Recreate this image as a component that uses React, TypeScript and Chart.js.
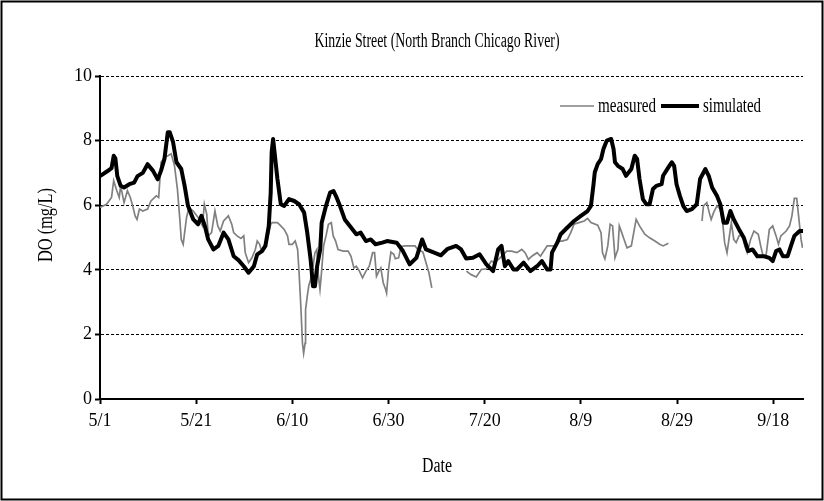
import React, { useEffect, useRef } from 'react';
import { Chart, registerables } from 'chart.js';

Chart.register(...registerables);

const FONT = '"Liberation Serif", "Times New Roman", serif';

const chartTitle = 'Kinzie Street (North Branch Chicago River)';
const xTitle = 'Date';
const yTitle = 'DO (mg/L)';
const seriesNames = ['measured', 'simulated'];

// x values are days after 5/1
const tickDays = [0, 20, 40, 60, 80, 100, 120, 140];
const tickLabels = ['5/1', '5/21', '6/10', '6/30', '7/20', '8/9', '8/29', '9/18'];

const measuredDays = [
  0.0, 1.35, 2.4, 2.85, 3.5, 4.0, 4.3, 5.0, 5.7, 6.3, 6.8, 7.3, 7.7, 8.2, 8.9, 9.9, 10.6, 11.7, 12.2, 12.7,
  13.4, 14.1, 14.8, 15.5, 16.1, 16.6, 16.9, 17.3, 17.6, 18.0, 18.5, 19.4, 20.4, 21.3, 21.7, 22.2, 22.5, 23.2, 23.9, 24.5,
  25.0, 25.7, 26.7, 27.4, 27.8, 28.5, 29.3, 29.9, 30.2, 30.9, 31.6, 32.3, 32.7, 33.2, 33.6, 34.1, 34.8, 35.5, 35.8, 36.9,
  37.6, 38.3, 39.0, 39.3, 40.0, 40.6, 41.1, 41.4, 41.8, 42.1, 42.35, 42.65, 42.75, 43.1, 43.4, 43.8, 44.3, 44.7, 45.1, 45.35,
  45.75, 46.0, 46.5, 47.0, 47.5, 48.1, 48.5, 49.0, 49.5, 50.6, 51.6, 52.2, 52.8, 53.3, 53.95, 54.6, 55.3, 56.0, 56.7, 57.1,
  57.5, 58.0, 58.4, 58.9, 59.4, 59.6, 60.0, 60.5, 61.1, 61.4, 62.1, 62.6, 63.4, 65.5, 66.1, 67.15, 67.8, 68.4, 69.0,
  72.5,
  76.2, 77.2, 78.25, 79.3, 80.35, 81.4, 82.1, 83.2, 84.6, 85.6, 86.7, 87.7, 88.4, 89.1, 89.8, 90.9, 91.6, 92.3, 93.0, 94.7,
  95.4, 96.1, 97.2, 97.9, 98.6, 99.6, 100.7, 101.4, 102.1, 103.5, 104.2, 104.5, 105.0, 105.6, 106.1, 106.6, 107.1, 107.7, 108.0, 108.5,
  109.1, 109.6, 110.5, 111.0, 111.5, 112.2, 113.3, 114.3, 115.4, 116.4, 117.1, 117.8, 118.2,
  121.5,
  125.2, 125.5, 126.2, 126.7, 127.1, 127.6, 128.3, 129.0, 129.5, 129.9, 130.4, 130.9, 131.3, 131.8, 132.3, 132.9, 133.6, 134.1, 134.6, 135.3,
  136.0, 136.9, 137.4, 137.9, 138.5, 139.2, 139.9, 140.6, 141.1, 141.6, 142.7, 143.4, 143.9, 144.4, 144.9, 145.5, 145.8, 146.1,
];
const measuredDO = [
  5.93, 6.03, 6.24, 6.76, 6.45, 6.24, 6.60, 6.08, 6.45, 6.24, 5.98, 5.67, 5.56, 5.88, 5.82, 5.88, 6.13, 6.29, 6.24, 7.33,
  7.48, 7.53, 7.59, 7.22, 6.50, 5.56, 4.94, 4.79, 5.15, 5.62, 5.93, 5.82, 5.62, 5.36, 6.03, 5.72, 5.05, 5.15, 5.82, 5.36,
  5.20, 5.51, 5.67, 5.41, 5.15, 5.05, 4.97, 5.05, 4.53, 4.22, 4.37, 4.63, 4.89, 4.79, 4.58, 4.74, 4.94, 5.41, 5.46, 5.46,
  5.36, 5.25, 5.05, 4.79, 4.79, 4.89, 4.63, 3.91, 2.77, 1.73, 1.42, 1.73, 2.77, 3.18, 3.49, 3.70, 4.11, 4.53, 4.63, 3.91,
  3.39, 3.80, 4.74, 5.05, 5.41, 5.46, 5.05, 4.89, 4.63, 4.58, 4.58, 4.42, 4.06, 4.11, 3.96, 3.75, 3.96, 4.11, 4.53, 4.53,
  3.80, 3.96, 4.06, 3.60, 3.39, 3.28, 4.01, 4.55, 4.48, 4.34, 4.37, 4.72, 4.74, 4.74, 4.63, 4.55, 4.22, 3.91, 3.44,
  null,
  3.96, 3.85, 3.78, 4.01, 4.03, 4.27, 4.22, 4.37, 4.58, 4.58, 4.53, 4.63, 4.53, 4.32, 4.42, 4.53, 4.42, 4.58, 4.74, 4.74,
  4.89, 4.89, 4.94, 5.15, 5.41, 5.46, 5.51, 5.59, 5.46, 5.38, 5.15, 4.53, 4.34, 4.74, 5.41, 5.36, 4.37, 4.63, 5.36, 5.15,
  4.89, 4.68, 4.74, 5.15, 5.56, 5.36, 5.10, 4.99, 4.89, 4.79, 4.74, 4.79, 4.82,
  null,
  5.51, 5.98, 6.08, 5.77, 5.56, 5.77, 5.98, 5.88, 5.46, 4.84, 4.53, 5.05, 5.46, 4.94, 4.84, 5.05, 5.10, 4.74, 4.53, 4.94,
  5.20, 5.10, 4.74, 4.42, 4.42, 5.25, 5.36, 5.05, 4.79, 5.05, 5.20, 5.36, 5.67, 6.21, 6.21, 5.36, 4.94, 4.68,
];

const simulatedDays = [
  0.0, 1.5, 2.4, 2.85, 3.2, 3.6, 4.3, 5.0, 6.1, 7.1, 7.8, 8.9, 9.9, 11.0, 12.0, 12.7, 13.4, 14.1, 14.5, 15.2,
  15.9, 16.9, 17.6, 18.3, 19.4, 20.4, 21.1, 21.8, 22.5, 23.6, 24.6, 25.7, 26.7, 27.8, 28.8, 29.9, 30.9, 32.0, 32.7, 33.7,
  34.4, 35.1, 35.5, 35.7, 36.0, 36.3, 36.9, 37.6, 38.3, 39.3, 40.4, 41.4, 42.45, 43.1, 43.8, 44.3, 44.7, 45.15, 45.8, 46.1,
  47.0, 47.85, 48.55, 49.2, 49.9, 50.9, 52.2, 53.3, 54.2, 55.3, 56.3, 57.3, 58.7, 59.7, 61.7, 63.0, 64.4, 65.8, 67.0, 67.8,
  69.5, 70.9, 72.3, 74.05, 75.1, 76.15, 77.55, 78.95, 80.35, 81.75, 82.8, 83.5, 84.2, 84.9, 86.0, 86.7, 88.1, 89.5, 90.9, 91.9,
  93.0, 93.7, 94.0, 95.1, 95.8, 97.2, 98.6, 100.0, 101.4, 102.1, 102.6, 102.9, 103.5, 104.2, 104.7, 105.4, 106.3, 106.8, 107.1, 107.7,
  108.7, 109.4, 110.5, 111.2, 111.7, 112.2, 112.9, 113.6, 114.3, 115.0, 115.7, 116.8, 117.1, 118.2, 118.9, 119.4, 119.9, 120.6, 121.3, 122.0,
  123.1, 124.1, 124.8, 125.9, 126.6, 127.3, 128.3, 129.0, 129.7, 130.4, 131.1, 131.8, 132.9, 133.9, 134.8, 135.7, 136.7, 138.1, 139.2, 139.9,
  140.6, 141.3, 142.0, 143.0, 143.7, 144.4, 145.5, 146.2,
];
const simulatedDO = [
  6.90, 7.05, 7.15, 7.53, 7.45, 6.90, 6.60, 6.55, 6.65, 6.70, 6.90, 7.00, 7.27, 7.07, 6.80, 7.07, 7.43, 8.26, 8.26, 7.95,
  7.33, 7.12, 6.60, 5.98, 5.56, 5.41, 5.67, 5.36, 4.94, 4.63, 4.74, 5.15, 4.94, 4.42, 4.30, 4.11, 3.91, 4.11, 4.48, 4.58,
  4.74, 5.36, 6.39, 7.64, 8.05, 7.64, 6.81, 6.03, 5.98, 6.19, 6.13, 6.03, 5.77, 5.15, 4.32, 3.49, 3.49, 4.11, 4.63, 5.46,
  5.98, 6.39, 6.44, 6.24, 5.98, 5.56, 5.31, 5.10, 5.15, 4.89, 4.94, 4.79, 4.84, 4.89, 4.84, 4.58, 4.17, 4.37, 4.94, 4.63,
  4.53, 4.45, 4.65, 4.74, 4.63, 4.35, 4.37, 4.48, 4.17, 3.96, 4.63, 4.74, 4.11, 4.27, 4.01, 4.01, 4.22, 3.96, 4.11, 4.27,
  4.01, 4.01, 4.53, 4.84, 5.10, 5.31, 5.51, 5.67, 5.82, 5.98, 6.60, 7.02, 7.27, 7.43, 7.74, 8.00, 8.05, 7.74, 7.33, 7.22,
  7.12, 6.91, 7.12, 7.53, 7.43, 6.81, 6.19, 6.03, 6.03, 6.50, 6.60, 6.65, 6.91, 7.17, 7.33, 7.22, 6.65, 6.29, 5.98, 5.82,
  5.88, 6.03, 6.81, 7.12, 6.91, 6.55, 6.29, 6.03, 5.46, 5.46, 5.82, 5.56, 5.25, 4.99, 4.58, 4.63, 4.42, 4.42, 4.37, 4.27,
  4.58, 4.63, 4.42, 4.42, 4.74, 5.05, 5.20, 5.20,
];

const framePlugin = {
  id: 'frame',
  beforeDraw(chart: any) {
    const ctx = chart.ctx;
    ctx.save();
    ctx.fillStyle = '#ffffff';
    ctx.fillRect(0, 0, chart.width, chart.height);
    ctx.strokeStyle = '#000000';
    ctx.lineWidth = 2;
    ctx.strokeRect(1.5, 1.5, chart.width - 3, chart.height - 3);
    ctx.restore();
  },
};

// condensed text: drawn at full font size, squeezed to the given width
function drawNarrow(ctx: any, text: string, x: number, y: number, size: number, width: number) {
  ctx.font = `${size}px ${FONT}`;
  const natural = ctx.measureText(text).width;
  ctx.fillText(text, x, y, Math.min(natural, width));
}

const textPlugin = {
  id: 'chartTexts',
  afterDraw(chart: any) {
    const ctx = chart.ctx;
    ctx.save();
    ctx.fillStyle = '#000000';
    ctx.textAlign = 'center';
    ctx.textBaseline = 'middle';
    drawNarrow(ctx, chartTitle, 437, 42, 20, 245);
    drawNarrow(ctx, xTitle, 437, 467, 20, 30);
    ctx.save();
    ctx.translate(47, 225);
    ctx.rotate(-Math.PI / 2);
    drawNarrow(ctx, yTitle, 0, 0, 20, 74);
    ctx.restore();
    ctx.restore();
  },
};

const legendPlugin = {
  id: 'insideLegend',
  afterDraw(chart: any) {
    const ctx = chart.ctx;
    const area = chart.chartArea;
    const y = area.top + 30;
    const datasets = chart.data.datasets;
    const lineLen = [34, 38];
    const textW = 58;
    ctx.save();
    ctx.textBaseline = 'middle';
    ctx.textAlign = 'left';
    let x = 560;
    seriesNames.forEach((name, i) => {
      const ds = datasets[i];
      ctx.strokeStyle = ds.borderColor;
      ctx.lineWidth = ds.borderWidth;
      ctx.lineCap = 'butt';
      ctx.beginPath();
      ctx.moveTo(x, y);
      ctx.lineTo(x + lineLen[i], y);
      ctx.stroke();
      x += lineLen[i] + 4;
      ctx.fillStyle = '#000000';
      drawNarrow(ctx, name, x, y + 1, 20, textW);
      x += textW + 5;
    });
    ctx.restore();
  },
};

export default function App() {
  const ref = useRef<HTMLCanvasElement>(null);

  useEffect(() => {
    document.body.style.margin = '0';
    const canvas = ref.current;
    if (!canvas) return;
    const measured = measuredDays.map((d, i) => ({ x: d, y: measuredDO[i] }));
    const simulated = simulatedDays.map((d, i) => ({ x: d, y: simulatedDO[i] }));

    const tickFont = { family: FONT, size: 18 };

    const chart = new Chart(canvas, {
      type: 'line',
      data: {
        datasets: [
          {
            label: seriesNames[0],
            data: measured,
            borderColor: '#808080',
            borderWidth: 1.7,
            pointRadius: 0,
            tension: 0,
            spanGaps: false,
            fill: false,
            order: 1,
          },
          {
            label: seriesNames[1],
            data: simulated,
            borderColor: '#000000',
            borderWidth: 4,
            pointRadius: 0,
            tension: 0,
            fill: false,
            order: 0,
            borderJoinStyle: 'round',
            borderCapStyle: 'round',
          },
        ],
      } as any,
      options: {
        responsive: false,
        animation: false,
        devicePixelRatio: 1,
        layout: { padding: { top: 76, right: 21, bottom: 0, left: 0 } },
        plugins: {
          legend: { display: false },
          title: { display: false },
          tooltip: { enabled: false },
        },
        scales: {
          x: {
            type: 'linear',
            min: 0,
            max: 146.2,
            afterBuildTicks: (scale: any) => {
              scale.ticks = tickDays.map((v) => ({ value: v }));
            },
            afterFit: (scale: any) => {
              scale.height = 501 - 399;
            },
            ticks: {
              autoSkip: false,
              maxRotation: 0,
              color: '#000000',
              font: tickFont,
              padding: 6,
              callback: (value: any) => {
                const i = tickDays.indexOf(Number(value));
                return i >= 0 ? tickLabels[i] : '';
              },
            },
            grid: {
              display: true,
              drawOnChartArea: false,
              drawTicks: true,
              tickLength: 5,
              tickColor: '#000000',
              tickWidth: 2,
            },
            border: { display: true, color: '#000000', width: 2 },
            title: { display: false },
          },
          y: {
            type: 'linear',
            min: 0,
            max: 10,
            afterFit: (scale: any) => {
              scale.width = 100;
            },
            ticks: {
              stepSize: 2,
              color: '#000000',
              font: tickFont,
              padding: 3,
            },
            grid: {
              display: true,
              drawOnChartArea: true,
              drawTicks: true,
              tickLength: 5,
              tickColor: '#000000',
              tickWidth: 2,
              lineWidth: 1,
              color: (ctx: any) => (ctx.tick && ctx.tick.value === 0 ? 'rgba(0,0,0,0)' : '#000000'),
            },
            border: { display: true, color: '#000000', width: 2, dash: [3, 2] },
            title: { display: false },
          },
        },
      } as any,
      plugins: [framePlugin, textPlugin, legendPlugin],
    });

    return () => chart.destroy();
  }, []);

  return (
    <div style={{ width: 824, height: 501 }}>
      <canvas ref={ref} width={824} height={501} style={{ display: 'block' }} />
    </div>
  );
}
